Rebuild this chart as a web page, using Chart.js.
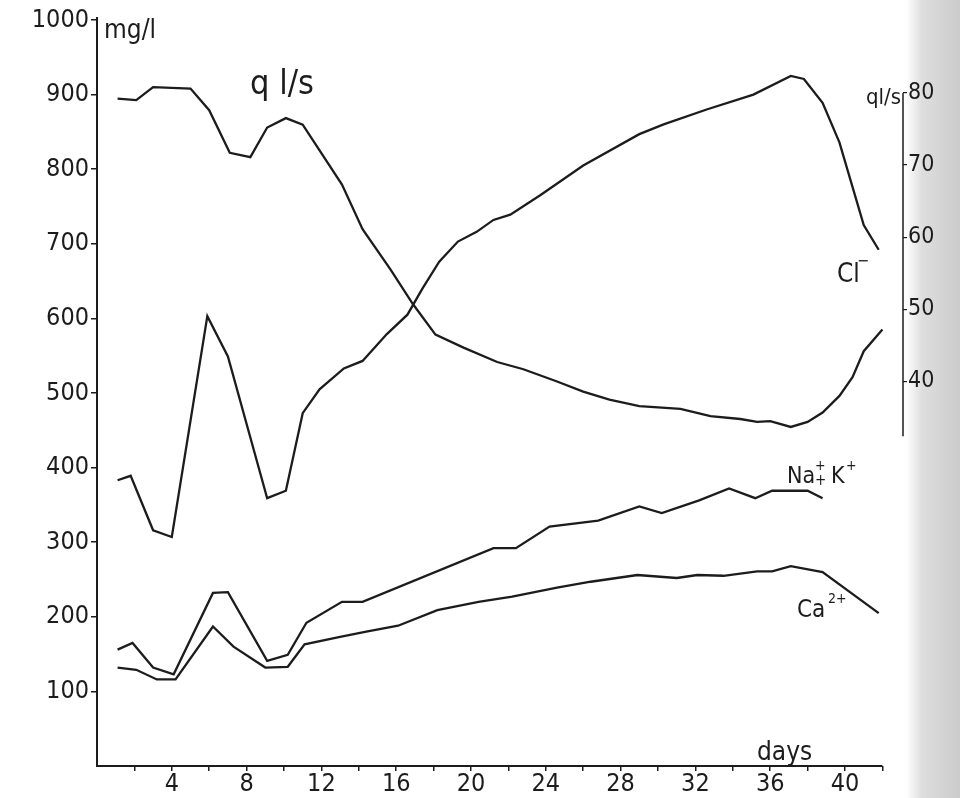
<!DOCTYPE html>
<html>
<head>
<meta charset="utf-8">
<script src="https://cdn.jsdelivr.net/npm/chart.js@4.4.1/dist/chart.umd.min.js"></script>
<style>
  html, body { margin: 0; padding: 0; }
  body {
    width: 960px; height: 798px; overflow: hidden;
    background: linear-gradient(to right, #ffffff 0px, #ffffff 906px, #dedede 922px, #cbcbcb 960px);
  }
  #wrap { position: absolute; left: 0; top: 0; width: 960px; height: 798px; }
</style>
</head>
<body>
<div id="wrap"><canvas id="grafico" width="960" height="798"></canvas></div>
<script>
// discharge q (l/s), right axis
const qDays   = [1.1, 2.1, 3.0, 5.0, 6.0, 7.1, 8.2, 9.1, 10.1, 11.0, 13.1, 14.2, 15.7, 16.9, 18.1, 19.6, 21.4, 22.8, 24.6, 26.0, 27.4, 29.0, 31.2, 32.8, 34.4, 35.3, 36.0, 37.1, 38.0, 38.8, 39.7, 40.4, 41.0, 42.0];
const qValues = [79.2, 79.0, 80.8, 80.6, 77.6, 71.7, 71.1, 75.2, 76.5, 75.6, 67.3, 61.1, 55.5, 50.7, 46.5, 44.7, 42.7, 41.7, 40.0, 38.6, 37.5, 36.6, 36.2, 35.2, 34.8, 34.4, 34.5, 33.7, 34.4, 35.7, 38.0, 40.6, 44.2, 47.2];

// Cl- (mg/l)
const clDays   = [1.1, 1.8, 3.0, 4.0, 5.9, 7.0, 9.1, 10.1, 11.0, 11.9, 13.2, 14.2, 15.5, 16.6, 17.4, 18.3, 19.3, 20.3, 21.2, 22.1, 23.7, 26.0, 29.0, 30.3, 32.6, 35.1, 37.1, 37.8, 38.8, 39.7, 41.0, 41.8];
const clValues = [383, 389, 316, 307, 603, 549, 359, 369, 473, 505, 533, 543, 579, 605, 640, 676, 703, 716, 732, 739, 765, 805, 847, 860, 880, 900, 925, 921, 889, 836, 725, 692];

// Na+ + K+ (mg/l)
const nakDays   = [1.1, 1.9, 3.0, 4.1, 6.2, 7.0, 9.1, 10.2, 11.2, 13.1, 14.2, 21.2, 22.4, 24.2, 26.8, 29.0, 30.2, 32.2, 33.8, 35.2, 36.1, 38.0, 38.8];
const nakValues = [156, 165, 132, 123, 232, 233, 141, 149, 192, 220, 220, 292, 292, 321, 329, 348, 339, 356, 372, 359, 369, 369, 359];

// Ca2+ (mg/l)
const caDays   = [1.1, 2.1, 3.2, 4.2, 6.2, 7.3, 9.0, 10.2, 11.1, 13.0, 14.4, 16.1, 18.2, 20.4, 22.2, 24.6, 26.4, 28.9, 31.0, 32.1, 33.5, 35.3, 36.1, 37.1, 38.8, 41.8];
const caValues = [132, 129, 116, 116, 187, 160, 132, 133, 163, 173, 180, 188, 209, 220, 227, 239, 247, 256, 252, 256, 255, 261, 261, 268, 260, 205];

const dayTicks = [2, 4, 6, 8, 10, 12, 14, 16, 18, 20, 22, 24, 26, 28, 30, 32, 34, 36, 38, 40, 42];
const mgTicks  = [100, 200, 300, 400, 500, 600, 700, 800, 900, 1000];
const qTicks   = [40, 50, 60, 70, 80];

const FONT = "'Liberation Sans Narrow', 'DejaVu Sans Condensed', 'Roboto', sans-serif";
const INK = '#1c1c1c';

function pts(xs, ys) {
    return xs.map(function (d, i) { return { x: d, y: ys[i] }; });
}

function serie(label, xs, ys, axis) {
    return {
        label: label,
        data: pts(xs, ys),
        yAxisID: axis,
        borderColor: INK,
        borderWidth: 2.3,
        pointRadius: 0,
        tension: 0,
        fill: false
    };
}

function txt(ctx, s, x, y, size, align) {
    ctx.font = size + 'px ' + FONT;
    ctx.textAlign = align || 'left';
    ctx.fillText(s, x, y);
}

function plain(v) { return String(v); }

// axis lines + labels drawn over the chart
const decor = {
    id: 'decor',
    afterDraw: function (chart) {
        const ctx = chart.ctx;
        const x = chart.scales.x, y = chart.scales.y, y2 = chart.scales.y2;
        ctx.save();
        ctx.strokeStyle = INK;
        ctx.fillStyle = INK;
        ctx.lineWidth = 2;

        const x0 = x.getPixelForValue(0);
        const yb = y.getPixelForValue(0);
        ctx.beginPath();
        ctx.moveTo(x0, y.getPixelForValue(1000) - 3);
        ctx.lineTo(x0, yb);
        ctx.lineTo(x.getPixelForValue(42), yb);
        ctx.stroke();

        const xr = chart.chartArea.right;
        ctx.lineWidth = 1.5;
        ctx.beginPath();
        ctx.moveTo(xr, y2.getPixelForValue(80));
        ctx.lineTo(xr, y2.getPixelForValue(32.4));
        ctx.stroke();

        ctx.textBaseline = 'alphabetic';
        txt(ctx, 'mg/l', x0 + 7, 38, 26);
        txt(ctx, 'q l/s', 250, 94, 34);
        txt(ctx, 'ql/s', xr - 2, 104, 22, 'right');

        // Cl-
        txt(ctx, 'Cl', 837, 282, 26);
        txt(ctx, '\u2212', 857, 266, 16);

        // Na+ + K+
        txt(ctx, 'Na', 787, 483, 23);
        txt(ctx, '+', 815, 470, 14);
        txt(ctx, '+', 815, 485, 15);
        txt(ctx, 'K', 831, 483, 23);
        txt(ctx, '+', 846, 470, 14);

        // Ca2+
        txt(ctx, 'Ca', 797, 617, 24);
        txt(ctx, '2+', 828, 603, 14);

        txt(ctx, 'days', 757, 760, 26);
        ctx.restore();
    }
};

new Chart(document.getElementById('grafico').getContext('2d'), {
    type: 'line',
    data: {
        datasets: [
            serie('q', qDays, qValues, 'y2'),
            serie('Cl-', clDays, clValues, 'y'),
            serie('Na+ + K+', nakDays, nakValues, 'y'),
            serie('Ca2+', caDays, caValues, 'y')
        ]
    },
    options: {
        responsive: false,
        animation: false,
        devicePixelRatio: 1,
        layout: { padding: { top: 20, left: 0, right: 0, bottom: 0 } },
        plugins: {
            legend: { display: false },
            tooltip: { enabled: false }
        },
        scales: {
            x: {
                type: 'linear',
                min: 0,
                max: 43.1,
                afterFit: function (s) { s.height = 32; },
                afterBuildTicks: function (s) { s.ticks = dayTicks.map(function (v) { return { value: v }; }); },
                ticks: {
                    color: INK,
                    padding: -2,
                    autoSkip: false,
                    maxRotation: 0,
                    font: { family: FONT, size: 25 },
                    callback: function (v) { return (v % 4 === 0 && v <= 40) ? String(v) : ''; }
                },
                grid: { drawOnChartArea: false, drawTicks: true, tickLength: 5, color: INK, lineWidth: 1.5 },
                border: { display: false }
            },
            y: {
                position: 'left',
                min: 0,
                max: 1000,
                afterFit: function (s) { s.width = 97; },
                afterBuildTicks: function (s) { s.ticks = mgTicks.map(function (v) { return { value: v }; }); },
                ticks: {
                    color: INK,
                    padding: 2,
                    font: { family: FONT, size: 25 },
                    callback: plain
                },
                grid: { drawOnChartArea: false, drawTicks: true, tickLength: 6, color: INK, lineWidth: 1.5 },
                border: { display: false }
            },
            y2: {
                position: 'right',
                min: -13.29,
                max: 90.1,
                afterFit: function (s) { s.width = 57; },
                afterBuildTicks: function (s) { s.ticks = qTicks.map(function (v) { return { value: v }; }); },
                ticks: {
                    color: INK,
                    padding: 1,
                    font: { family: FONT, size: 23 },
                    callback: plain
                },
                grid: { drawOnChartArea: false, drawTicks: true, tickLength: 4, color: INK, lineWidth: 1.2 },
                border: { display: false }
            }
        }
    },
    plugins: [decor]
});
</script>
</body>
</html>
